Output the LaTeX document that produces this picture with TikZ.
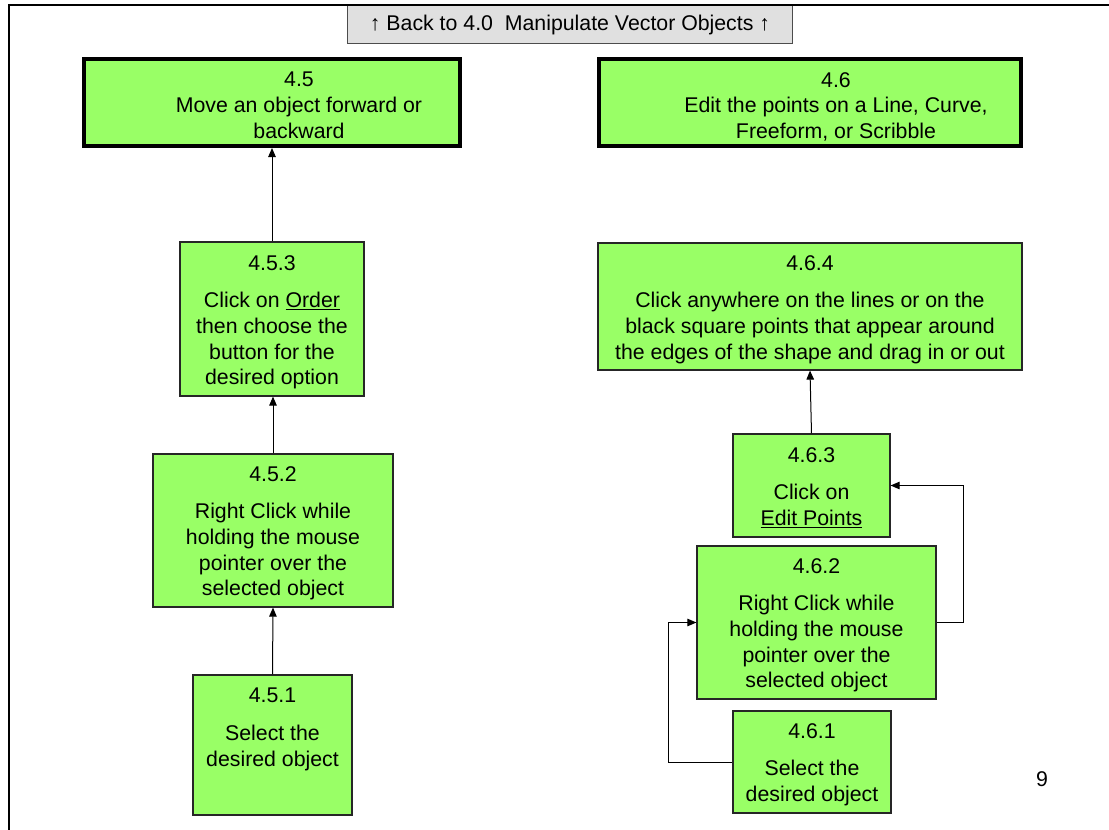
\documentclass[tikz,border=0pt]{standalone}
\usepackage{fontspec}
\setmainfont{Liberation Sans}
\usetikzlibrary{arrows.meta,calc}
\definecolor{grn}{RGB}{153,255,102}
\definecolor{bannerfill}{RGB}{224,224,224}
\begin{document}
\begin{tikzpicture}[x=1pt,y=-1pt,
  greenbox/.style={draw=black!85, line width=1.2pt, fill=grn, inner sep=0pt},
  titlebox/.style={draw=black, line width=4pt, fill=grn, inner sep=0pt},
  txt/.style={font=\fontsize{21.3}{25.7}\selectfont, align=center, inner sep=0pt, anchor=north},
  arr/.style={line width=1pt, -{Triangle[length=9pt,width=7.5pt]}},
  ln/.style={line width=1pt}]
\useasboundingbox (0,0) rectangle (1109,830);
\fill[white] (0,0) rectangle (1109,830);

% banner
\node[draw=black!70, line width=1pt, fill=bannerfill, minimum width=445pt, minimum height=38pt, inner sep=0pt] (banner) at (569.5,24) {};
\node[txt, anchor=center] (bannertxt) at (570,25) {↑ Back to 4.0\ \ Manipulate Vector Objects ↑};
\draw[line width=2.5pt] (9,830) -- (9,5) -- (1109,5);

% title boxes
\node[titlebox, minimum width=376pt, minimum height=87pt] (b45) at (272,102.5) {};
\node[txt] (t45) at (299,72) {4.5\\Move an object forward or\\backward};
\node[titlebox, minimum width=422pt, minimum height=87pt] (b46) at (810,102.5) {};
\node[txt] (t46) at (836,72) {4.6\\Edit the points on a Line, Curve,\\Freeform, or Scribble};

% left column
\node[greenbox, minimum width=184pt, minimum height=154pt] (b453) at (272,319) {};
\node[txt] (t453) at (272,255) {4.5.3\\[12pt]Click on \underline{Order}\\then choose the\\button for the\\desired option};
\node[greenbox, minimum width=240pt, minimum height=153pt] (b452) at (273,530.5) {};
\node[txt] (t452) at (273,466) {4.5.2\\[12pt]Right Click while\\holding the mouse\\pointer over the\\selected object};
\node[greenbox, minimum width=159pt, minimum height=140pt] (b451) at (272.5,745) {};
\node[txt] (t451) at (272.5,688) {4.5.1\\[12pt]Select the\\desired object};

% right column
\node[greenbox, minimum width=424pt, minimum height=127pt] (b464) at (810,306.5) {};
\node[txt] (t464) at (810,255) {4.6.4\\[12pt]Click anywhere on the lines or on the\\black square points that appear around\\the edges of the shape and drag in or out};
\node[greenbox, minimum width=157pt, minimum height=103pt] (b463) at (811.5,485.5) {};
\node[txt] (t463) at (811.5,447) {4.6.3\\[12pt]Click on\\\underline{Edit Points}};
\node[greenbox, minimum width=239pt, minimum height=153pt] (b462) at (816.5,622.5) {};
\node[txt] (t462) at (816.5,558) {4.6.2\\[12pt]Right Click while\\holding the mouse\\pointer over the\\selected object};
\node[greenbox, minimum width=158pt, minimum height=102pt] (b461) at (812,762) {};
\node[txt] (t461) at (812,723) {4.6.1\\[12pt]Select the\\desired object};

\node[txt, anchor=center] (pg) at (1042,779) {9};

% connectors left
\draw[arr] (b451.north) -- (b452.south);
\draw[arr] (b452.north) -- (b452.north |- b453.south);
\draw[arr] (b453.north) -- (b453.north |- b45.south);

% connectors right
\draw[ln] ($(b464.north)+(-4,0)$) -- ($(b464.north)+(-4,0)$ |- b46.south);
\draw[arr] (b463.north) -- (b464.south);
\draw[arr] (b461.west) -- ++(-64,0) |- (b462.west);
\draw[arr] (b462.east) -- ++(27,0) |- (b463.east);
\end{tikzpicture}
\end{document}
